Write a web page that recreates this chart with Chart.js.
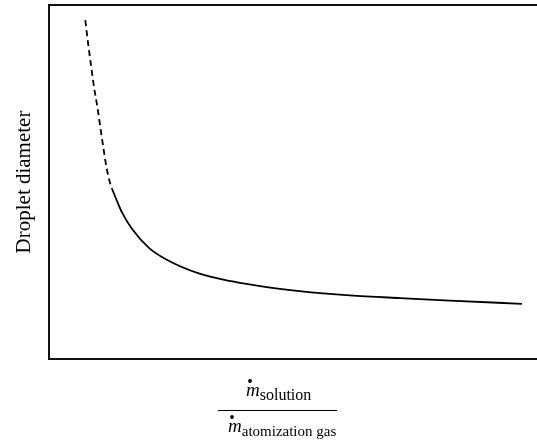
<!DOCTYPE html>
<html lang="en">
<head>
  <meta charset="UTF-8">
  <title>Droplet diameter vs mass flow ratio</title>
  <script src="https://cdn.jsdelivr.net/npm/chart.js"></script>
  <style>
    body {
      margin: 0;
      background: #fff;
    }
    canvas {
      display: block;
    }
  </style>
</head>
<body>
  <canvas id="chart" width="537" height="445"></canvas>

  <script>
    // mass flow ratio (solution / atomization gas), arbitrary units
    const dashedRatio = [7.4, 8.0, 8.6, 9.2, 9.9, 10.5, 11.1, 11.7, 12.3, 12.9];
    const dashedDiameter = [95.7, 88.9, 82.7, 76.7, 71.0, 65.3, 59.7, 54.5, 50.6, 48.0];

    const solidRatio = [12.9, 14.0, 15.0, 17.0, 20.5, 24.0, 30.8, 37.6, 44.6, 51.3, 61.6, 71.9, 82.1, 96.9];
    const solidDiameter = [48.0, 44.3, 41.2, 36.7, 31.3, 28.1, 24.1, 21.9, 20.3, 19.2, 18.0, 17.2, 16.5, 15.6];

    const serif = '"Liberation Serif", "Times New Roman", serif';

    function toPoints(xs, ys) {
      return xs.map((x, i) => ({ x: x, y: ys[i] }));
    }

    // draws the ṁsolution / ṁatomization gas fraction under the plot
    const fractionLabel = {
      id: 'fractionLabel',
      afterDraw(chart) {
        const ctx = chart.ctx;
        ctx.save();
        ctx.fillStyle = '#000';
        ctx.strokeStyle = '#000';
        ctx.textBaseline = 'alphabetic';
        ctx.textAlign = 'left';

        function massFlow(x, baseline, sub, subSize) {
          ctx.font = 'italic 19px ' + serif;
          ctx.fillText('m', x, baseline);
          const w = ctx.measureText('m').width;
          ctx.beginPath();
          ctx.arc(x + 4, baseline - 15, 1.9, 0, Math.PI * 2);
          ctx.fill();
          ctx.font = subSize + 'px ' + serif;
          ctx.fillText(sub, x + w, baseline + 3.5);
        }

        massFlow(246, 396, 'solution', 16);
        massFlow(228, 432, 'atomization gas', 15);

        ctx.lineWidth = 1.2;
        ctx.beginPath();
        ctx.moveTo(218, 410.5);
        ctx.lineTo(337, 410.5);
        ctx.stroke();
        ctx.restore();
      }
    };

    const hidden = {
      ticks: { display: false },
      grid: { display: false, drawTicks: false },
      border: { display: true, color: '#111', width: 2 }
    };

    new Chart(document.getElementById('chart'), {
      type: 'line',
      data: {
        datasets: [{
          data: toPoints(dashedRatio, dashedDiameter),
          borderColor: '#000',
          borderWidth: 1.8,
          borderDash: [6, 4],
          pointRadius: 0,
          cubicInterpolationMode: 'monotone'
        }, {
          data: toPoints(solidRatio, solidDiameter),
          borderColor: '#000',
          borderWidth: 1.8,
          pointRadius: 0,
          cubicInterpolationMode: 'monotone'
        }]
      },
      options: {
        responsive: false,
        animation: false,
        layout: {
          padding: { left: 0, top: 5, right: 0, bottom: 86 }
        },
        plugins: {
          legend: { display: false },
          tooltip: { enabled: false }
        },
        scales: {
          x: Object.assign({ type: 'linear', min: 0, max: 100, position: 'bottom' }, hidden),
          xTop: Object.assign({ type: 'linear', min: 0, max: 100, position: 'top', display: true }, hidden),
          y: Object.assign({
            type: 'linear', min: 0, max: 100, position: 'left',
            title: {
              display: true,
              text: 'Droplet diameter',
              color: '#000',
              font: { family: serif, size: 21, lineHeight: 1.2 },
              padding: { top: 12, bottom: 12 }
            }
          }, hidden)
        }
      },
      plugins: [fractionLabel]
    });
  </script>
</body>
</html>
